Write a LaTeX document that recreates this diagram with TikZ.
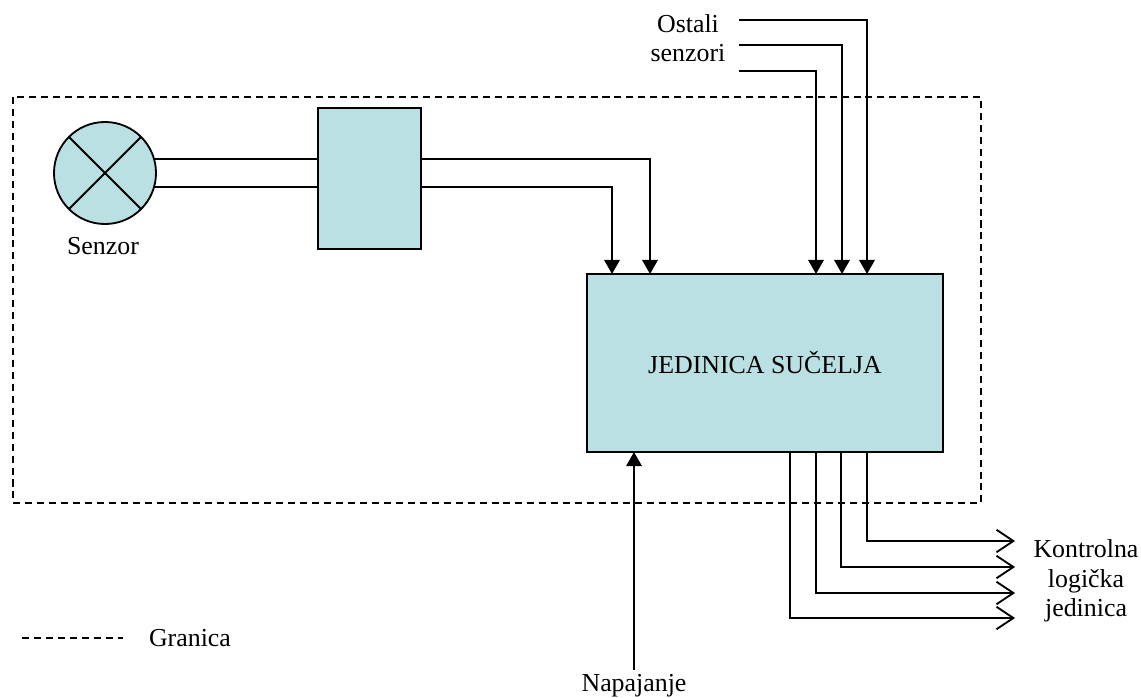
\documentclass[tikz,border=0pt]{standalone}
\usepackage{fontspec}
\setmainfont{Liberation Serif}
\usetikzlibrary{arrows.meta}
\definecolor{boxfill}{RGB}{186,224,227}

\begin{document}
\begin{tikzpicture}[x=0.025cm,y=-0.025cm,
	every node/.style={font=\fontsize{18.4}{21}\selectfont},
	blok/.style={draw,line width=1.3pt,fill=boxfill,inner sep=0pt,outer sep=0pt},
	vod/.style={line width=1.3pt},
	ulaz/.style={vod,-{Triangle[length=10pt,width=11pt]}},
	izlaz/.style={vod,-{Straight Barb[length=12pt,width=16pt,line width=1.3pt]}},
	granica/.style={line width=1.1pt,dash pattern=on 5pt off 3.5pt}]

	\useasboundingbox (0,0) rectangle (1141,697);

	\node[blok,circle,minimum size=2.55cm] (sen) at (105,173) {};
	\node (senL) at (103,246) {Senzor};
	\node[blok,minimum width=2.575cm,minimum height=3.525cm] (pret) at (369.5,178.5) {};
	\node[blok,minimum width=8.9cm,minimum height=4.45cm] (jed) at (765,363) {JEDINICA SUČELJA};
	\node[align=center] (ost) at (688,38) {Ostali\\senzori};
	\node[align=center] (klj) at (1086,581) {Kontrolna\\logička\\jedinica};
	\node (nap) at (634,686) {Napajanje};
	\node (gran) at (190,638) {Granica};

	% granica sustava
	\draw[granica] (13,97) rectangle (981,503);
	\coordinate (leg) at (22,638);
	\draw[granica] (leg) -- ++(101,0);

	% senzor
	\draw[vod] (sen.45) -- (sen.225);
	\draw[vod] (sen.135) -- (sen.-45);
	\draw[vod] (sen.16) -- (sen.16 -| pret.west);
	\draw[vod] (sen.-16) -- (sen.-16 -| pret.west);

	% ulazi u jedinicu
	\coordinate (u1) at (612,274);
	\coordinate (u2) at (650,274);
	\coordinate (u3) at (816,274);
	\coordinate (u4) at (842,274);
	\coordinate (u5) at (867,274);
	\coordinate (o1) at (739,20);
	\coordinate (o2) at (739,45);
	\coordinate (o3) at (739,71);

	\draw[ulaz] (pret.east |- sen.16) -| (u2);
	\draw[ulaz] (pret.east |- sen.-16) -| (u1);
	\draw[ulaz] (o1) -| (u5);
	\draw[ulaz] (o2) -| (u4);
	\draw[ulaz] (o3) -| (u3);
	\draw[ulaz] (nap.north) -- (nap.north |- jed.south);

	% izlazi
	\coordinate (d1) at (790,452);
	\coordinate (d2) at (816,452);
	\coordinate (d3) at (841,452);
	\coordinate (d4) at (867,452);
	\coordinate (e1) at (1015,618);
	\coordinate (e2) at (1015,593);
	\coordinate (e3) at (1015,567);
	\coordinate (e4) at (1015,541);

	\draw[izlaz] (d1) |- (e1);
	\draw[izlaz] (d2) |- (e2);
	\draw[izlaz] (d3) |- (e3);
	\draw[izlaz] (d4) |- (e4);

\end{tikzpicture}
\end{document}
